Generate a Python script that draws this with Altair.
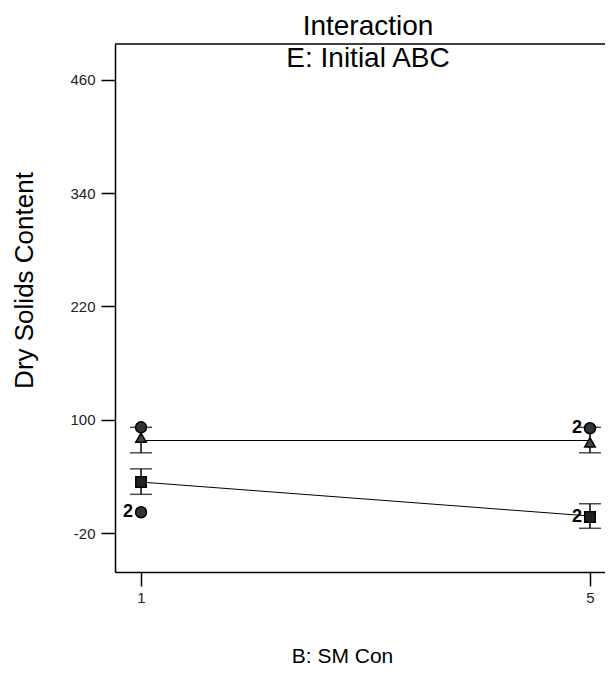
import altair as alt
import pandas as pd

# ---- data ----
x_levels = [1, 5]
series_names = ["E-", "E+"]
pred_low = [34, -2]          # lower line (square markers)
pred_high = [78, 78]         # upper line (triangle markers)
low_bar_top = [48, 11]
low_bar_bot = [21, -15]
high_bar_top = [92, 92]
high_bar_bot = [65, 65]
square_y = [34, -3]
triangle_y = [81, 76]
circle_x = [1, 1, 5]
circle_y = [92, 2, 91]
circle_lbl = ["", "2", "2"]
square_lbl = ["", "2"]
y_ticks = [-20, 100, 220, 340, 460]
x_ticks = [1, 5]

FONT = "Liberation Sans"

lines = pd.DataFrame({
    "x": x_levels + x_levels,
    "y": pred_low + pred_high,
    "s": [series_names[0]] * 2 + [series_names[1]] * 2,
})
bars = pd.DataFrame({
    "x": x_levels + x_levels,
    "top": low_bar_top + high_bar_top,
    "bot": low_bar_bot + high_bar_bot,
})
squares = pd.DataFrame({"x": x_levels, "y": square_y, "lbl": square_lbl})
triangles = pd.DataFrame({"x": x_levels, "y": triangle_y})
circles = pd.DataFrame({"x": circle_x, "y": circle_y, "lbl": circle_lbl})

xs = alt.Scale(domain=[0.768, 5.134], nice=False, zero=False)
ys = alt.Scale(domain=[-61.3, 498.1], nice=False, zero=False)

common = dict(grid=False, tickSize=14, tickColor="black", tickWidth=1.5, domainColor="black",
              domainWidth=1.5, labelFontSize=15, labelColor="#222", labelFont=FONT,
              titleFont=FONT, titleFontWeight="normal", titleColor="black",
              labelExpr="'' + datum.value")
xaxis = alt.Axis(
    values=x_ticks, title="B:  SM Con", labelPadding=4,
    titleX=227, titleY=84, titleBaseline="middle", titleAlign="center",
    titleFontSize=21, **common)
yaxis = alt.Axis(
    values=y_ticks, title="Dry Solids Content", labelPadding=6,
    titleX=-91, titleY=236, titleBaseline="middle", titleAlign="center", titleAngle=270,
    titleFontSize=26, **common)

xenc = alt.X("x:Q", scale=xs, axis=xaxis)
yenc = lambda f: alt.Y(f, scale=ys, axis=yaxis)

frame_top = alt.Chart(pd.DataFrame({"a": [0]})).mark_rule(color="black", strokeWidth=1.5).encode(
    x=alt.value(0), x2=alt.value(490), y=alt.value(0))

line_layer = alt.Chart(lines).mark_line(color="black", strokeWidth=1).encode(
    x=xenc, y=yenc("y:Q"), detail="s:N")

bar_layer = alt.Chart(bars).mark_rule(color="black", strokeWidth=1.5).encode(
    x=xenc, y=yenc("top:Q"), y2="bot:Q")
cap_top = alt.Chart(bars).mark_tick(orient="horizontal", size=22, thickness=1.5, color="black").encode(
    x=xenc, y=yenc("top:Q"))
cap_bot = alt.Chart(bars).mark_tick(orient="horizontal", size=22, thickness=1.5, color="black").encode(
    x=xenc, y=yenc("bot:Q"))

sq_layer = alt.Chart(squares).mark_point(shape="square", size=110, filled=True, color="#222",
                                         stroke="black", strokeWidth=1.5, opacity=1).encode(
    x=xenc, y=yenc("y:Q"))
tri_layer = alt.Chart(triangles).mark_point(shape="triangle-up", size=110, filled=True, color="#444",
                                            stroke="black", strokeWidth=1.5, opacity=1).encode(
    x=xenc, y=yenc("y:Q"))
circ_layer = alt.Chart(circles).mark_point(shape="circle", size=120, filled=True, color="#333",
                                           stroke="black", strokeWidth=1.5, opacity=1).encode(
    x=xenc, y=yenc("y:Q"))
circ_txt = alt.Chart(circles).mark_text(dx=-13, fontSize=18, fontWeight="bold", font=FONT,
                                        color="black").encode(
    x=xenc, y=yenc("y:Q"), text="lbl:N")
sq_txt = alt.Chart(squares).mark_text(dx=-13, fontSize=18, fontWeight="bold", font=FONT,
                                      color="black").encode(
    x=xenc, y=yenc("y:Q"), text="lbl:N")

chart = alt.layer(
    frame_top, line_layer, bar_layer, cap_top, cap_bot, tri_layer, circ_layer, sq_layer,
    circ_txt, sq_txt
).properties(
    width=490, height=528,
    background="white",
    autosize=alt.AutoSizeParams(type="none"),
    padding={"left": 107, "top": 36, "right": 0, "bottom": 100},
    title=alt.TitleParams(
        text="Interaction", subtitle="E: Initial ABC", fontSize=28, subtitleFontSize=28,
        font=FONT, subtitleFont=FONT, fontWeight="normal", color="black",
        subtitleColor="black", anchor="middle", frame="group", offset=-30, dx=8,
        subtitlePadding=4),
).configure_view(stroke=None)

chart.save("out.html", embed_options={"renderer": "svg", "actions": False})
